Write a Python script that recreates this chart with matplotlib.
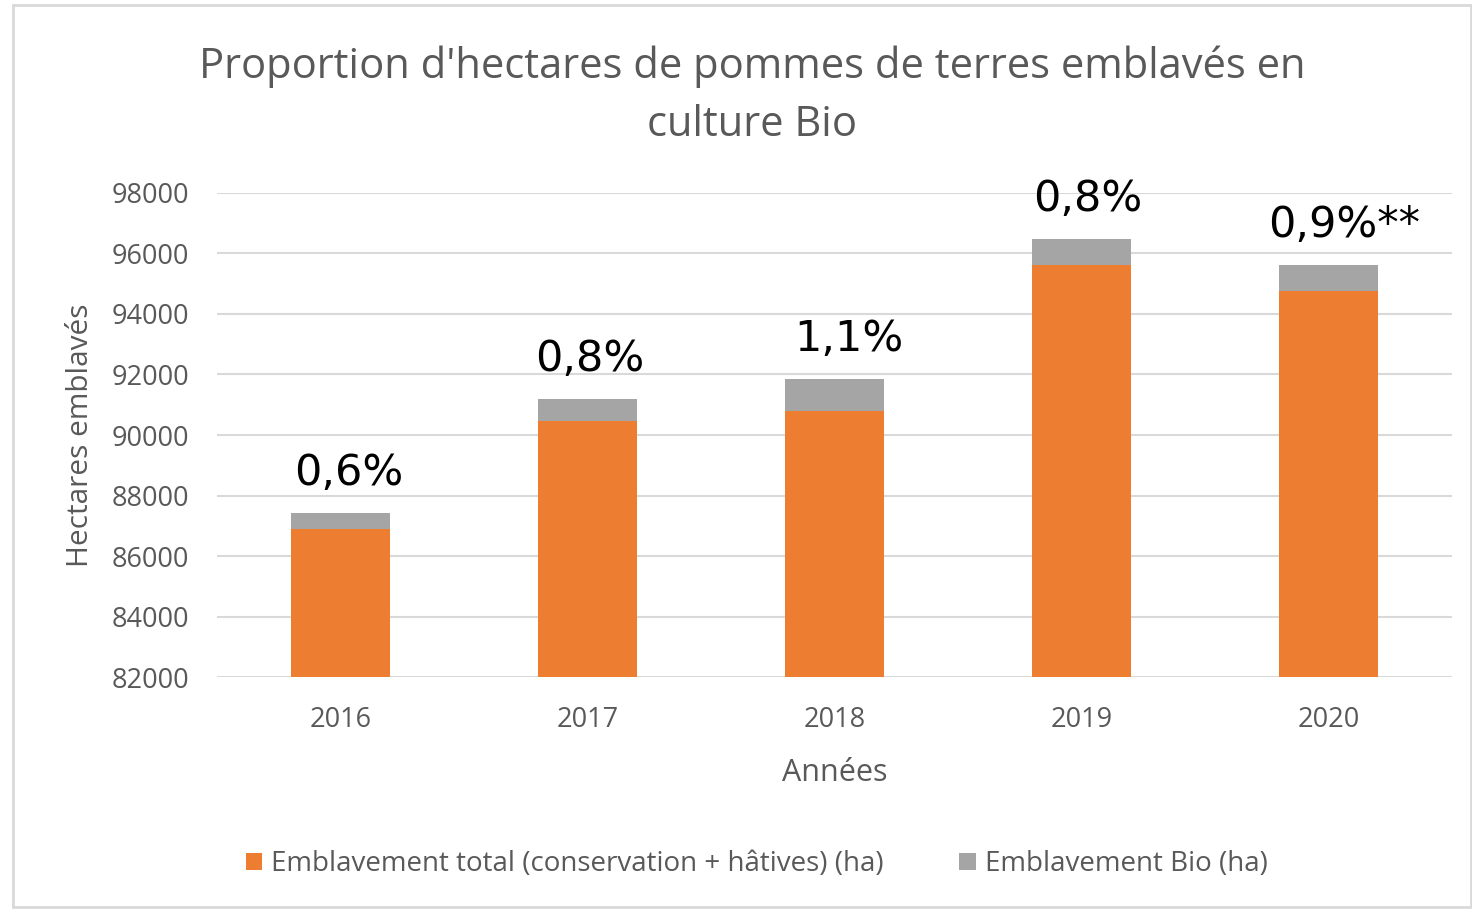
import matplotlib.pyplot as plt
from matplotlib.patches import Rectangle

# Data
annees = ["2016", "2017", "2018", "2019", "2020"]
total = [86900, 90460, 90790, 95630, 94750]
bio = [510, 720, 1050, 840, 870]
pourcentages = ["0,6%", "0,8%", "1,1%", "0,8%", "0,9%**"]
yticks = [82000, 84000, 86000, 88000, 90000, 92000, 94000, 96000, 98000]

orange = "#ED7D31"
gris = "#A5A5A5"
texte = "#595959"

plt.rcParams['font.family'] = ['Open Sans', 'DejaVu Sans']

fig = plt.figure(figsize=(14.72, 9.09), dpi=100)
ax = fig.add_axes([0.1474, 0.2552, 0.839, 0.5325])

x = range(len(annees))
ax.bar(x, total, width=0.4, color=orange, label="Emblavement total (conservation + hâtives) (ha)", zorder=3)
ax.bar(x, bio, width=0.4, bottom=total, color=gris, label="Emblavement Bio (ha)", zorder=3)

# pourcentage bio au-dessus des barres
decal = [8, 2, 14, 6, 16]
for i, p in enumerate(pourcentages):
    haut = total[i] + bio[i]
    ax.annotate(p, (i, haut), xytext=(decal[i] * 0.72, 14), textcoords="offset points",
                ha="center", va="bottom", fontsize=31, color="black",
                family=["DejaVu Sans"])

ax.set_ylim(82000, 98000)
ax.set_xlim(-0.5, 4.5)
ax.set_yticks(yticks)
ax.set_yticklabels([str(v) for v in yticks])
ax.set_xticks(list(x))
ax.set_xticklabels(annees)
ax.tick_params(axis="both", length=0, labelsize=19.5, labelcolor=texte)
ax.tick_params(axis="x", pad=21)
ax.tick_params(axis="y", pad=20)
ax.grid(axis="y", color="#D9D9D9", linewidth=1.5, zorder=0)
for s in ax.spines.values():
    s.set_visible(False)

ax.set_ylabel("Hectares emblavés", fontsize=21.5, color=texte, labelpad=12)
ax.set_xlabel("Années", fontsize=22, color=texte, labelpad=17)

fig.suptitle("Proportion d'hectares de pommes de terres emblavés en\nculture Bio",
             x=0.511, y=0.950, fontsize=30, color=texte, linespacing=1.5)

fig.legend(loc="center", bbox_to_anchor=(0.514, 0.049), ncol=2, frameon=False,
           fontsize=20, labelcolor=texte, handlelength=0.6, handleheight=0.6,
           handletextpad=0.33, columnspacing=2.7)

# cadre du graphique
fig.patches.append(Rectangle((0.009, 0.002), 0.99, 0.992, transform=fig.transFigure,
                             fill=False, edgecolor="#D9D9D9", linewidth=2))

fig.savefig("out.png", dpi=100)
